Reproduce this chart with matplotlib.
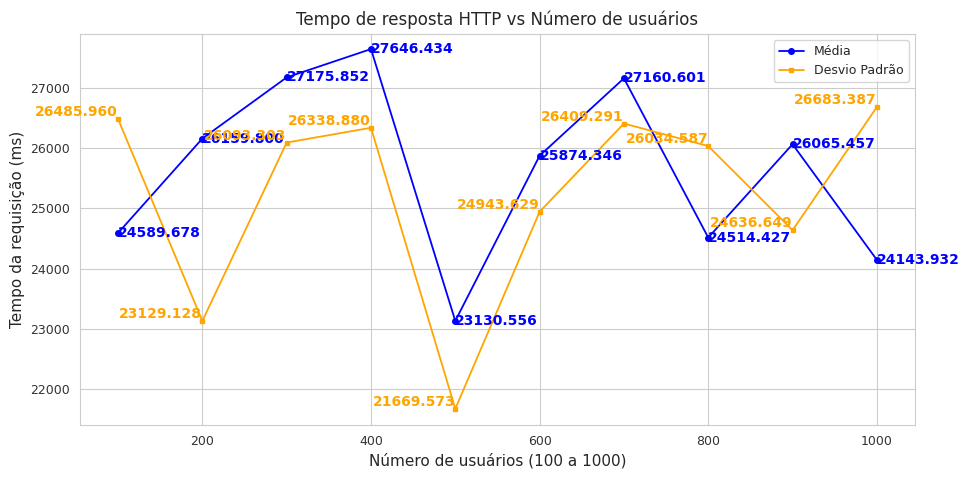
import matplotlib.pyplot as plt
import seaborn as sns

usuarios = [100, 200, 300, 400, 500, 600, 700, 800, 900, 1000]
media = [24589.678, 26159.800, 27175.852, 27646.434, 23130.556,
         25874.346, 27160.601, 24514.427, 26065.457, 24143.932]
desvio = [26485.960, 23129.128, 26093.303, 26338.880, 21669.573,
          24943.629, 26409.291, 26034.587, 24636.649, 26683.387]


def main():
    sns.set_style('whitegrid')
    plt.rcParams['font.family'] = ['DejaVu Sans']

    fig, ax = plt.subplots(figsize=(9.65, 4.83), dpi=100)
    fig.subplots_adjust(left=0.083, right=0.948, top=0.93, bottom=0.12)

    ax.plot(usuarios, media, color='blue', marker='o', markersize=4, linewidth=1.3, label='Média')
    ax.plot(usuarios, desvio, color='orange', marker='s', markersize=3.5, linewidth=1.3, label='Desvio Padrão')

    # rótulos dos pontos
    for x, y in zip(usuarios, media):
        ax.text(x, y, f'{y:.3f}', color='blue', fontsize=10, fontweight='bold', ha='left', va='center')
    for x, y in zip(usuarios, desvio):
        ax.text(x, y, f'{y:.3f}', color='orange', fontsize=10, fontweight='bold', ha='right', va='bottom')

    ax.set_xlim(55, 1045)
    ax.set_ylim(21400, 27900)
    ax.set_xticks([200, 400, 600, 800, 1000])
    ax.set_yticks([22000, 23000, 24000, 25000, 26000, 27000])
    ax.tick_params(labelsize=9, colors='#333333')
    ax.set_xlabel('Número de usuários (100 a 1000)', fontsize=11)
    ax.set_ylabel('Tempo da requisição (ms)', fontsize=11)
    ax.set_title('Tempo de resposta HTTP vs Número de usuários', fontsize=12)
    ax.legend(loc='upper right', fontsize=9)

    plt.savefig('out.png', dpi=100)
    plt.close()


if __name__ == "__main__":
    main()
